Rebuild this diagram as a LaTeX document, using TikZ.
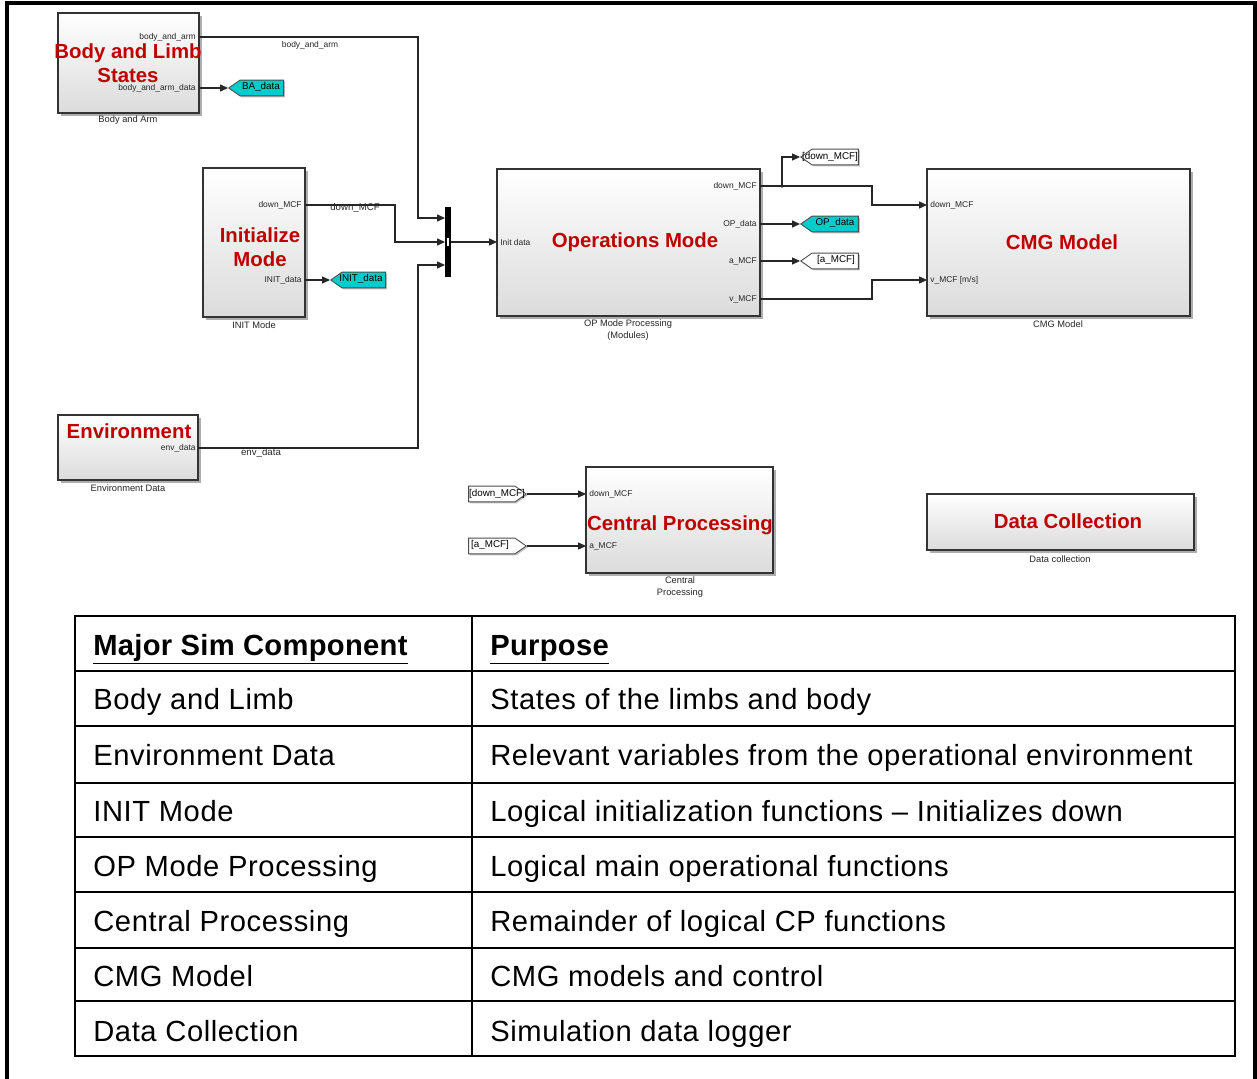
\documentclass[tikz,border=0pt]{standalone}
\usepackage{fontspec}
\setmainfont{Liberation Sans}
\usetikzlibrary{arrows.meta,shapes.symbols,shadows,fit}
\definecolor{simred}{RGB}{192,0,0}
\definecolor{tagcyan}{RGB}{0,204,204}
\begin{document}
\begin{tikzpicture}[x=0.02cm,y=-0.02cm,
  block/.style={draw=black!80, line width=0.8pt, inner sep=0pt, top color=white, bottom color=black!14,
    drop shadow={shadow xshift=1.6pt, shadow yshift=-1.6pt, fill=black!45, opacity=0.7}},
  title/.style={text=simred, font=\fontsize{11.6}{13.6}\selectfont\bfseries, align=center, inner sep=0pt},
  port/.style={font=\fontsize{4.8}{5.5}\selectfont, inner sep=0pt, text=black!85},
  sublabel/.style={font=\fontsize{5.3}{6.6}\selectfont, inner sep=0pt, align=center, text=black!85},
  sig/.style={draw=black!85, line width=0.6pt, -{Triangle[length=4.5pt,width=4pt]}},
  tagtext/.style={font=\fontsize{5.6}{6}\selectfont, inner sep=0pt, text=black},
  gototag/.style={draw=black!70, line width=0.5pt, signal, signal to=west, signal pointer angle=70,
    minimum width=31.2pt, minimum height=9pt, inner sep=0pt,
    drop shadow={shadow xshift=0.8pt, shadow yshift=-0.8pt, fill=black!40, opacity=0.6}},
  fromtag/.style={draw=black!70, line width=0.5pt, signal, signal to=east, signal pointer angle=70,
    minimum width=32.8pt, minimum height=9pt, inner sep=0pt,
    drop shadow={shadow xshift=0.8pt, shadow yshift=-0.8pt, fill=black!40, opacity=0.6}},
  tbl/.style={line width=1.2pt, black},
  cell/.style={anchor=base west, inner sep=0pt, font=\fontsize{16.6}{19}\selectfont\addfontfeature{LetterSpace=2}}
]
\useasboundingbox (0,0) rectangle (1257,1078);
% outer frame
\draw[line width=1.8pt] (7,1080) -- (7,3) -- (1255,3) -- (1255,1080);

% ---------- blocks ----------
\node[block, fit={(58,13)(199,113)}] (body) {};
\node[block, fit={(203,168)(305,317)}] (init) {};
\node[block, fit={(58,415)(198,480)}] (env) {};
\node[block, fit={(497,169)(760,316)}] (op) {};
\node[block, fit={(927,169)(1190,316)}] (cmg) {};
\node[block, fit={(586,467)(773,573)}] (cp) {};
\node[block, fit={(927,494)(1194,550)}] (dc) {};

% mux bar
\node[fill=black, inner sep=0pt, fit={(445,207)(451,277)}] (mux) {};
\fill[white] (447,238) rectangle (449,246);

% titles
\node[title] (bodyT) at (128,63) {Body and Limb\\States};
\node[title] (initT) at (260,247) {Initialize\\Mode};
\node[title] (envT) at (129,431) {Environment};
\node[title] (opT) at (635,242) {Operations Mode};
\node[title] (cmgT) at (1062,242) {CMG Model};
\node[title] (cpT) at (680,525) {Central Processing};
\node[title] (dcT) at (1068,521) {Data Collection};

% sublabels
\node[sublabel] (bodyL) at (128,120) {Body and Arm};
\node[sublabel] (initL) at (254,325) {INIT Mode};
\node[sublabel] (envL) at (128,488) {Environment Data};
\node[sublabel] (opL) at (628,330) {OP Mode Processing\\(Modules)};
\node[sublabel] (cmgL) at (1058,324) {CMG Model};
\node[sublabel] (cpL) at (680,587) {Central\\Processing};
\node[sublabel] (dcL) at (1060,559) {Data collection};

% port coordinates
\coordinate (bo1) at (199,37);
\coordinate (bo2) at (199,88);
\coordinate (io1) at (305,205);
\coordinate (io2) at (305,280);
\coordinate (eo1) at (198,448);
\coordinate (mi1) at (445,218);
\coordinate (mi2) at (445,242);
\coordinate (mi3) at (445,265);
\coordinate (mo) at (451,242);
\coordinate (opi) at (497,242);
\coordinate (opo1) at (760,186);
\coordinate (opo2) at (760,224);
\coordinate (opo3) at (760,261);
\coordinate (opo4) at (760,299);
\coordinate (ci1) at (927,205);
\coordinate (ci2) at (927,280);
\coordinate (cpi1) at (586,494);
\coordinate (cpi2) at (586,546);
\coordinate (jd) at (782,186);

% port labels
\node[port, anchor=east] (pl1) at (196,37) {body\_and\_arm};
\node[port, anchor=east] (pl2) at (196,88) {body\_and\_arm\_data};
\node[port, anchor=east] (pl3) at (302,205) {down\_MCF};
\node[port, anchor=east] (pl4) at (302,280) {INIT\_data};
\node[port, anchor=east] (pl5) at (196,448) {env\_data};
\node[port, anchor=west] (pl6) at (500,242) {Init data};
\node[port, anchor=east] (pl7) at (757,186) {down\_MCF};
\node[port, anchor=east] (pl8) at (757,224) {OP\_data};
\node[port, anchor=east] (pl9) at (757,261) {a\_MCF};
\node[port, anchor=east] (pl10) at (757,299) {v\_MCF};
\node[port, anchor=west] (pl11) at (930,205) {down\_MCF};
\node[port, anchor=west] (pl12) at (930,280) {v\_MCF [m/s]};
\node[port, anchor=west] (pl13) at (589,494) {down\_MCF};
\node[port, anchor=west] (pl14) at (589,546) {a\_MCF};

% tags
\node[gototag, fill=tagcyan, anchor=west] (baTag) at (228,88) {};
\node[tagtext] (baTxt) at (261,87) {BA\_data};
\node[gototag, fill=tagcyan, anchor=west] (initTag) at (330,280) {};
\node[tagtext] (initTxt) at (361,279) {INIT\_data};
\node[gototag, fill=white, anchor=west, minimum width=32.8pt] (dmTag) at (800,157) {};
\node[tagtext] (dmTxt) at (830,157) {[down\_MCF]};
\node[gototag, fill=tagcyan, anchor=west, minimum width=32.8pt] (opTag) at (800,224) {};
\node[tagtext] (opTxt) at (835,223) {OP\_data};
\node[gototag, fill=white, anchor=west, minimum width=32.8pt] (amTag) at (800,261) {};
\node[tagtext] (amTxt) at (836,260) {[a\_MCF]};
\node[fromtag, fill=white, anchor=east] (fdm) at (527,494) {};
\node[tagtext] (fdmTxt) at (497,494) {[down\_MCF]};
\node[fromtag, fill=white, anchor=east] (fam) at (527,546) {};
\node[tagtext] (famTxt) at (490,545) {[a\_MCF]};

% connectors
\draw[sig] (bo1) -| (418,218) -- (mi1);
\draw[sig] (bo2) -- (baTag.west);
\draw[sig] (io1) -| (395,242) -- (mi2);
\draw[sig] (io2) -- (initTag.west);
\draw[sig] (eo1) -| (418,265) -- (mi3);
\draw[sig] (mo) -- (opi);
\draw[sig] (opo1) -| (872,205) -- (ci1);
\draw[sig] (jd) |- (dmTag.west);
\fill[black!85] (jd) circle (1.1pt);
\draw[sig] (opo2) -- (opTag.west);
\draw[sig] (opo3) -- (amTag.west);
\draw[sig] (opo4) -| (872,280) -- (ci2);
\draw[sig] (fdm.east) -- (cpi1);
\draw[sig] (fam.east) -- (cpi2);

% connector labels
\node[port] (cl1) at (310,45) {body\_and\_arm};
\node[port, font=\fontsize{5.5}{6}\selectfont] (cl2) at (355,208) {down\_MCF};
\node[port, font=\fontsize{5.5}{6}\selectfont] (cl3) at (261,453) {env\_data};

% ---------- table ----------
\draw[tbl] (75,616) rectangle (1235,1056);
\draw[tbl] (472,616) -- (472,1056);
\foreach \yy in {671,726,783,837,892,948,1001} \draw[tbl] (75,\yy) -- (1235,\yy);

\node[cell, font=\fontsize{16.6}{19}\selectfont\bfseries\addfontfeature{LetterSpace=1}] (h1) at (93,655) {\underline{Major Sim Component}};
\node[cell, font=\fontsize{16.6}{19}\selectfont\bfseries\addfontfeature{LetterSpace=1}] (h2) at (490,655) {\underline{Purpose}};

\node[cell] (r1a) at (93,709) {Body and Limb};
\node[cell] (r1b) at (490,709) {States of the limbs and body};
\node[cell] (r2a) at (93,765) {Environment Data};
\node[cell] (r2b) at (490,765) {Relevant variables from the operational environment};
\node[cell] (r3a) at (93,821) {INIT Mode};
\node[cell] (r3b) at (490,821) {Logical initialization functions – Initializes down};
\node[cell] (r4a) at (93,876) {OP Mode Processing};
\node[cell] (r4b) at (490,876) {Logical main operational functions};
\node[cell] (r5a) at (93,931) {Central Processing};
\node[cell] (r5b) at (490,931) {Remainder of logical CP functions};
\node[cell] (r6a) at (93,986) {CMG Model};
\node[cell] (r6b) at (490,986) {CMG models and control};
\node[cell] (r7a) at (93,1041) {Data Collection};
\node[cell] (r7b) at (490,1041) {Simulation data logger};
\end{tikzpicture}
\end{document}
